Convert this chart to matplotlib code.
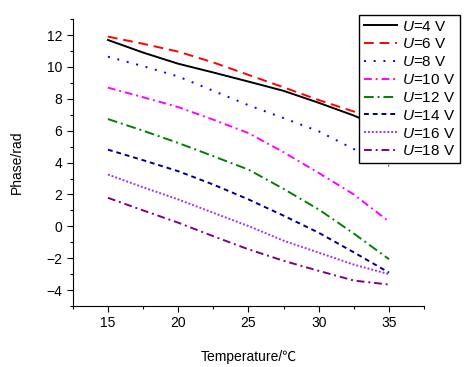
import matplotlib
matplotlib.use('Agg')
import matplotlib.pyplot as plt
from matplotlib.ticker import MultipleLocator

plt.rcParams['font.family'] = ['Liberation Sans', 'Noto Sans CJK SC']
plt.rcParams['mathtext.fontset'] = 'custom'
plt.rcParams['mathtext.it'] = 'Liberation Sans:italic'
plt.rcParams['mathtext.rm'] = 'Liberation Sans'

temperature = [15, 17.5, 20, 22.5, 25, 27.5, 30, 32.5, 35]
voltages = [4, 6, 8, 10, 12, 14, 16, 18]
phase_u4 = [11.69, 10.9, 10.2, 9.65, 9.08, 8.5, 7.75, 6.95, 6.0]
phase_u6 = [11.9, 11.45, 10.96, 10.28, 9.5, 8.72, 7.92, 7.2, 6.5]
phase_u8 = [10.64, 10.05, 9.4, 8.5, 7.6, 6.79, 5.96, 4.85, 3.8]
phase_u10 = [8.7, 8.1, 7.48, 6.69, 5.85, 4.65, 3.35, 2.0, 0.3]
phase_u12 = [6.73, 6.0, 5.23, 4.4, 3.56, 2.35, 1.06, -0.45, -2.06]
phase_u14 = [4.81, 4.15, 3.46, 2.62, 1.69, 0.67, -0.4, -1.63, -2.9]
phase_u16 = [3.25, 2.45, 1.69, 0.85, 0.02, -0.9, -1.65, -2.4, -3.0]
phase_u18 = [1.79, 1.0, 0.23, -0.62, -1.44, -2.16, -2.79, -3.4, -3.65]

series = [phase_u4, phase_u6, phase_u8, phase_u10, phase_u12, phase_u14, phase_u16, phase_u18]
colors = ['black', 'red', 'blue', '#ff00ff', '#008000', '#000080', '#9933ff', '#800080']
styles = ['-', (0, (5, 3)), (0, (1, 4)), (0, (4, 2, 1, 2)), (0, (5, 2, 1, 2)),
          (0, (2.5, 2)), (0, (1, 1)), (0, (4, 2, 1, 2))]

fig = plt.figure(figsize=(4.76, 3.67), dpi=100)
ax = fig.add_axes([0.153, 0.166, 0.738, 0.782])

for v, y, c, ls in zip(voltages, series, colors, styles):
    ax.plot(temperature, y, color=c, linestyle=ls, linewidth=1.4, label='$U$=%d V' % v)

ax.set_xlim(12.5, 37.5)
ax.set_ylim(-5, 13)
ax.xaxis.set_major_locator(MultipleLocator(5))
ax.xaxis.set_minor_locator(MultipleLocator(2.5))
ax.yaxis.set_major_locator(MultipleLocator(2))
ax.yaxis.set_minor_locator(MultipleLocator(1))
ax.spines['top'].set_visible(False)
ax.spines['right'].set_visible(False)
ax.tick_params(which='major', direction='out', length=4, width=0.8, labelsize=10)
ax.tick_params(which='minor', direction='out', length=2.5, width=0.8)

ax.set_xlabel('Temperature/℃', fontsize=10, labelpad=14)
ax.set_ylabel('Phase/rad', fontsize=10, labelpad=16)

leg = fig.legend(loc='upper right', bbox_to_anchor=(0.966, 0.959), fontsize=11,
                 frameon=True, fancybox=False, edgecolor='black', framealpha=1,
                 handlelength=2.2, handletextpad=0.3, labelspacing=0.25,
                 borderpad=0.3, borderaxespad=0)
leg.get_frame().set_linewidth(1.0)

fig.savefig('out.png', dpi=100)
